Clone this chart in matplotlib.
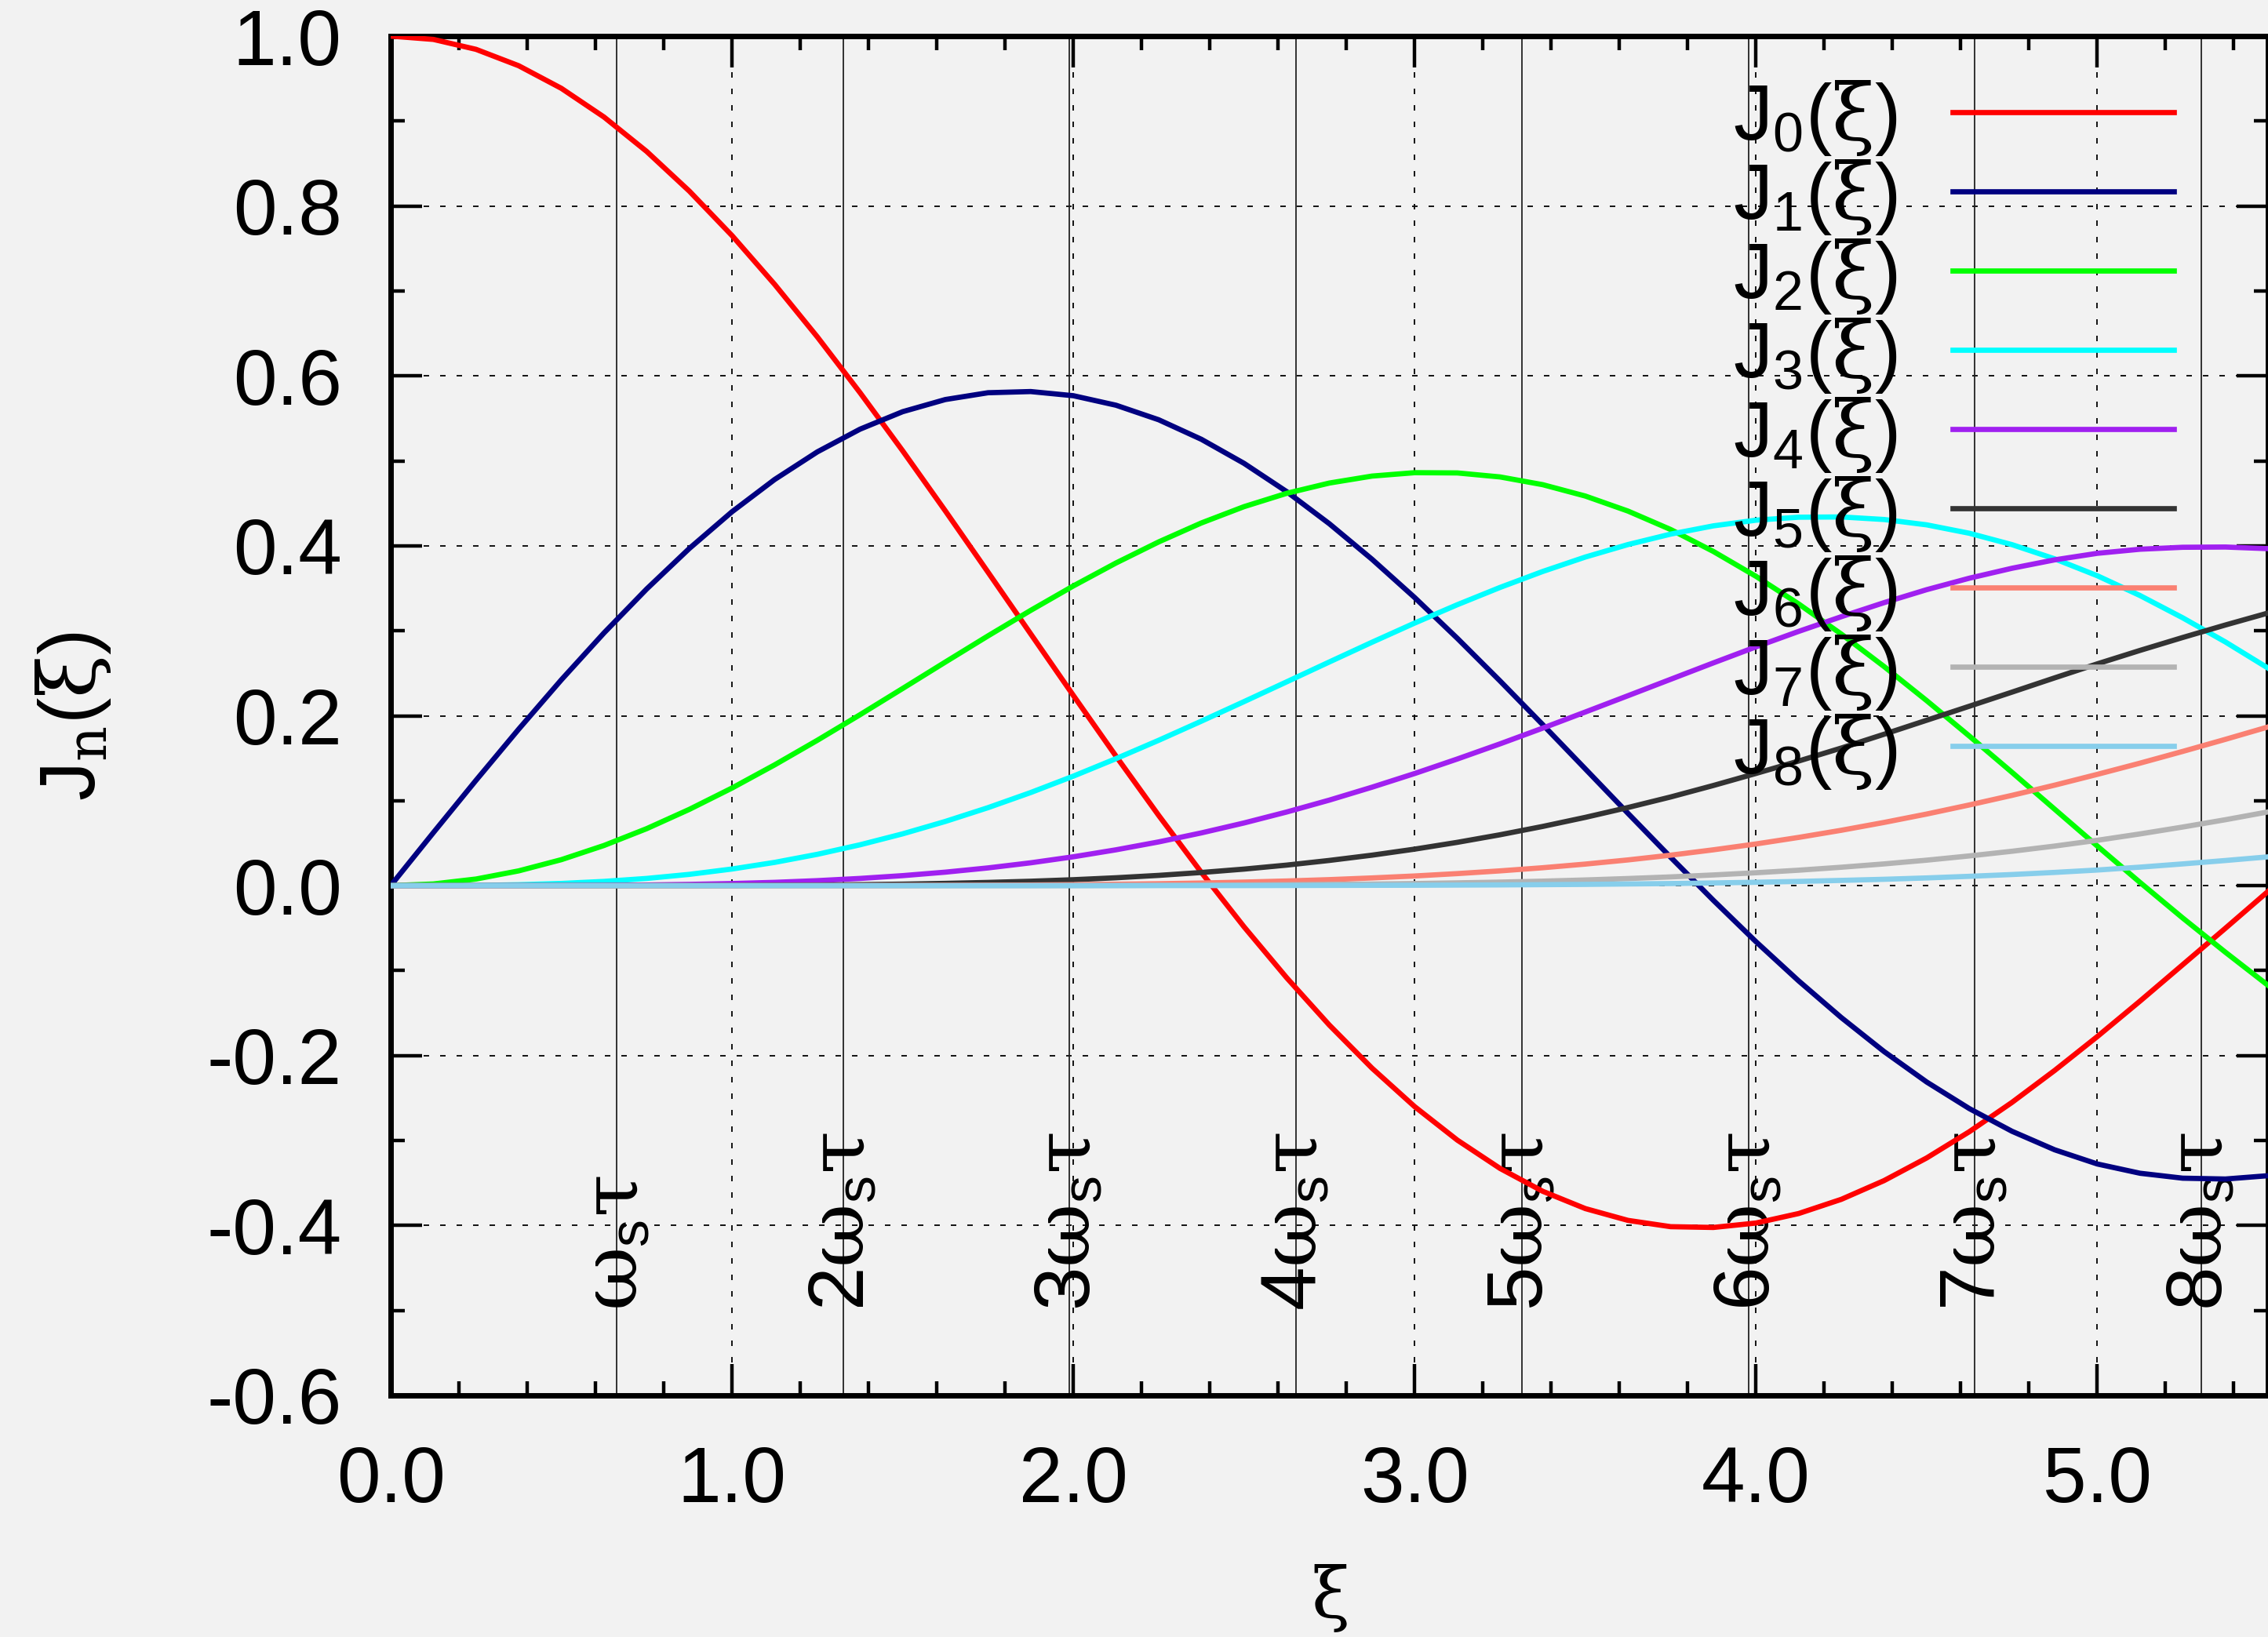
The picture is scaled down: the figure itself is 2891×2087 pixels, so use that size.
import matplotlib
matplotlib.use("Agg")
import matplotlib.pyplot as plt
from matplotlib.ticker import MultipleLocator, FormatStrFormatter

plt.rcParams['font.family'] = ['Liberation Sans', 'DejaVu Sans']
plt.rcParams['mathtext.fontset'] = 'custom'
plt.rcParams['mathtext.rm'] = 'Liberation Sans'
plt.rcParams['mathtext.it'] = 'DejaVu Serif'
plt.rcParams['mathtext.bf'] = 'Liberation Sans:bold'
plt.rcParams['axes.unicode_minus'] = False

# values (xi step 0.125)
xi = [0.0, 0.125, 0.25, 0.375, 0.5, 0.625, 0.75, 0.875, 1.0, 1.125, 1.25, 1.375,
      1.5, 1.625, 1.75, 1.875, 2.0, 2.125, 2.25, 2.375, 2.5, 2.625, 2.75, 2.875,
      3.0, 3.125, 3.25, 3.375, 3.5, 3.625, 3.75, 3.875, 4.0, 4.125, 4.25, 4.375,
      4.5, 4.625, 4.75, 4.875, 5.0, 5.125, 5.25, 5.375, 5.5]
j0 = [1.0, 0.9961, 0.9844, 0.9651, 0.9385, 0.9047, 0.8642, 0.8175, 0.7652, 0.7077, 0.6459, 0.5803,
      0.5118, 0.4411, 0.3690, 0.2964, 0.2239, 0.1524, 0.0827, 0.0156, -0.0484, -0.1084, -0.1641, -0.2148,
      -0.2601, -0.2995, -0.3328, -0.3597, -0.3801, -0.3940, -0.4014, -0.4023, -0.3971, -0.3859, -0.3692,
      -0.3472, -0.3205, -0.2896, -0.2551, -0.2175, -0.1776, -0.1359, -0.0931, -0.0502, -0.0068]
j1 = [0.0, 0.0624, 0.1240, 0.1842, 0.2423, 0.2975, 0.3492, 0.3969, 0.4401, 0.4781, 0.5106, 0.5373,
      0.5579, 0.5722, 0.5802, 0.5816, 0.5767, 0.5655, 0.5484, 0.5254, 0.4971, 0.4638, 0.4260, 0.3842,
      0.3391, 0.2911, 0.2410, 0.1896, 0.1374, 0.0851, 0.0334, -0.0172, -0.0660, -0.1121, -0.1553,
      -0.1952, -0.2311, -0.2624, -0.2891, -0.3109, -0.3276, -0.3385, -0.3443, -0.3453, -0.3414]
j2 = [0.0, 0.0020, 0.0078, 0.0174, 0.0306, 0.0473, 0.0671, 0.0898, 0.1149, 0.1422, 0.1711, 0.2012,
      0.2321, 0.2632, 0.2940, 0.3240, 0.3528, 0.3798, 0.4046, 0.4269, 0.4461, 0.4618, 0.4739, 0.4821,
      0.4861, 0.4858, 0.4811, 0.4720, 0.4586, 0.4409, 0.4192, 0.3934, 0.3641, 0.3316, 0.2961,
      0.2580, 0.2178, 0.1761, 0.1334, 0.0900, 0.0466, 0.0038, -0.0380, -0.0783, -0.1173]
j3 = [0.0, 0.0, 0.0003, 0.0011, 0.0026, 0.0050, 0.0085, 0.0133, 0.0196, 0.0274, 0.0369, 0.0481,
      0.0610, 0.0756, 0.0918, 0.1096, 0.1289, 0.1495, 0.1711, 0.1936, 0.2166, 0.2399, 0.2633, 0.2865,
      0.3091, 0.3307, 0.3510, 0.3698, 0.3868, 0.4015, 0.4138, 0.4235, 0.4302, 0.4337, 0.4340,
      0.4310, 0.4247, 0.4148, 0.4014, 0.3847, 0.3648, 0.3415, 0.3153, 0.2869, 0.2561]
j4 = [0.0, 0.0, 0.0, 0.0001, 0.0002, 0.0004, 0.0008, 0.0015, 0.0025, 0.0039, 0.0059, 0.0085,
      0.0118, 0.0159, 0.0209, 0.0269, 0.0340, 0.0422, 0.0515, 0.0621, 0.0738, 0.0867, 0.1007, 0.1159,
      0.1320, 0.1491, 0.1669, 0.1854, 0.2044, 0.2236, 0.2429, 0.2622, 0.2811, 0.2993, 0.3166,
      0.3331, 0.3484, 0.3619, 0.3736, 0.3835, 0.3912, 0.3960, 0.3983, 0.3986, 0.3967]
j5 = [0.0, 0.0, 0.0, 0.0, 0.0, 0.0, 0.0001, 0.0001, 0.0002, 0.0005, 0.0007, 0.0012,
      0.0018, 0.0027, 0.0038, 0.0052, 0.0070, 0.0093, 0.0121, 0.0155, 0.0195, 0.0242, 0.0297, 0.0359,
      0.0430, 0.0510, 0.0599, 0.0697, 0.0804, 0.0920, 0.1044, 0.1179, 0.1321, 0.1467, 0.1620,
      0.1782, 0.1947, 0.2112, 0.2278, 0.2446, 0.2611, 0.2769, 0.2921, 0.3068, 0.3209]
j6 = [0.0, 0.0, 0.0, 0.0, 0.0, 0.0, 0.0, 0.0, 0.0, 0.0, 0.0001, 0.0001,
      0.0002, 0.0004, 0.0006, 0.0008, 0.0012, 0.0017, 0.0023, 0.0031, 0.0042, 0.0055, 0.0071, 0.0091,
      0.0114, 0.0142, 0.0174, 0.0211, 0.0254, 0.0303, 0.0359, 0.0422, 0.0491, 0.0568, 0.0652,
      0.0744, 0.0843, 0.0950, 0.1063, 0.1183, 0.1310, 0.1442, 0.1580, 0.1722, 0.1868]
j7 = [0.0, 0.0, 0.0, 0.0, 0.0, 0.0, 0.0, 0.0, 0.0, 0.0, 0.0, 0.0,
      0.0, 0.0, 0.0001, 0.0001, 0.0002, 0.0003, 0.0004, 0.0006, 0.0008, 0.0011, 0.0015, 0.0019,
      0.0025, 0.0033, 0.0042, 0.0053, 0.0067, 0.0084, 0.0103, 0.0126, 0.0152, 0.0182, 0.0217,
      0.0256, 0.0300, 0.0350, 0.0405, 0.0466, 0.0534, 0.0609, 0.0690, 0.0776, 0.0868]
j8 = [0.0, 0.0, 0.0, 0.0, 0.0, 0.0, 0.0, 0.0, 0.0, 0.0, 0.0, 0.0,
      0.0, 0.0, 0.0, 0.0, 0.0, 0.0, 0.0001, 0.0001, 0.0001, 0.0002, 0.0003, 0.0004,
      0.0005, 0.0007, 0.0009, 0.0012, 0.0015, 0.0020, 0.0025, 0.0032, 0.0040, 0.0050, 0.0062,
      0.0075, 0.0091, 0.0110, 0.0131, 0.0156, 0.0184, 0.0218, 0.0256, 0.0296, 0.0339]

series = [j0, j1, j2, j3, j4, j5, j6, j7, j8]
labels = ['J$_{%d}$($\\xi$)' % n for n in range(9)]
colors = ['#ff0000', '#000080', '#00ff00', '#00ffff', '#a020f0',
          '#333333', '#fa8072', '#b3b3b3', '#87ceeb']

# sideband markers at multiples of omega_s * tau
ws_tau = 0.663
marker_k = [1, 2, 3, 4, 5, 6, 7, 8]

bg = '#f2f2f2'
fig = plt.figure(figsize=(28.91, 20.87), dpi=100, facecolor=bg)
ax = fig.add_axes([498 / 2891, 1 - 1779 / 2087, (2891 - 498) / 2891, (1779 - 46) / 2087])
ax.set_facecolor(bg)

ax.grid(which='major', color='#111111', linestyle=(0, (3.6, 7.2)), linewidth=1.4, zorder=1)

for k in marker_k:
    ax.axvline(k * ws_tau, color='#222222', linewidth=1.3, zorder=2)
    txt = ('%d' % k if k > 1 else '') + '$\\omega_{\\mathrm{s}}\\tau$'
    ax.text(k * ws_tau, -0.5, txt, rotation=90, ha='center', va='bottom',
            fontsize=72, zorder=3)

for ys, lab, col in zip(series, labels, colors):
    ax.plot(xi, ys, color=col, linewidth=4.8, label=lab, zorder=4)

ax.set_xlim(0, 5.5)
ax.set_ylim(-0.6, 1.0)
ax.xaxis.set_major_locator(MultipleLocator(1.0))
ax.xaxis.set_minor_locator(MultipleLocator(0.2))
ax.yaxis.set_major_locator(MultipleLocator(0.2))
ax.yaxis.set_minor_locator(MultipleLocator(0.1))
ax.xaxis.set_major_formatter(FormatStrFormatter('%.1f'))
ax.yaxis.set_major_formatter(FormatStrFormatter('%.1f'))

ax.tick_params(which='major', direction='in', length=29, width=3.2,
               top=True, right=True, labelsize=72, pad=45)
ax.tick_params(which='minor', direction='in', length=13, width=3.2,
               top=True, right=True)
for sp in ax.spines.values():
    sp.set_linewidth(5)

ax.set_xlabel('$\\xi$', fontsize=64, va='center')
ax.xaxis.set_label_coords(0.5, -0.149)
ax.set_ylabel('J$_{n}$($\\xi$)', fontsize=72)
ax.yaxis.set_label_coords(-0.148, 0.5)

ax.legend(loc='upper right', bbox_to_anchor=(0.950, 0.969), bbox_transform=ax.transAxes,
          markerfirst=False, frameon=False, fontsize=72, handlelength=2.82,
          handletextpad=0.7, labelspacing=0.0, borderpad=0, borderaxespad=0)

fig.savefig('out.png', dpi=100, facecolor=bg)
